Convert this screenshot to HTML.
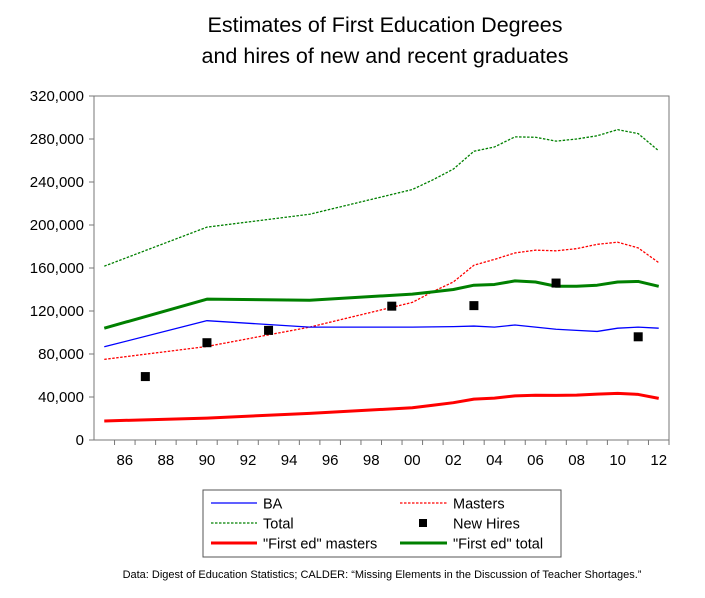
<!DOCTYPE html>
<html><head><meta charset="utf-8"><style>
html,body{margin:0;padding:0;background:#fff}
svg{display:block;font-family:"Liberation Sans",Arial,sans-serif}
</style></head><body>
<svg id="chart" width="705" height="598" viewBox="0 0 705 598">
<text x="385" y="32" font-size="21.5" text-anchor="middle">Estimates of First Education Degrees</text>
<text x="385" y="63" font-size="21.5" text-anchor="middle">and hires of new and recent graduates</text>
<g id="axes"></g>
<g id="series"></g>
<rect x="203" y="490" width="358" height="67" fill="#fff" stroke="#555" stroke-width="1"/>
<g><line x1="211" y1="503" x2="257" y2="503" stroke="#0000ff" stroke-width="1.3"/><text x="263" y="508.5" font-size="14.5">BA</text></g>
<g><line x1="400" y1="503" x2="447" y2="503" stroke="#ff0000" stroke-width="1.3" stroke-dasharray="2.5,1.5"/><text x="453" y="508.5" font-size="14.5">Masters</text></g>
<g><line x1="211" y1="523" x2="257" y2="523" stroke="#008000" stroke-width="1.3" stroke-dasharray="2.5,1.5"/><text x="263" y="528.5" font-size="14.5">Total</text></g>
<g><rect x="419" y="519" width="8" height="8" fill="#000"/><text x="453" y="528.5" font-size="14.5">New Hires</text></g>
<g><line x1="211" y1="543" x2="257" y2="543" stroke="#ff0000" stroke-width="3"/><text x="263" y="548.5" font-size="14.5">"First ed" masters</text></g>
<g><line x1="400" y1="543" x2="447" y2="543" stroke="#008000" stroke-width="3"/><text x="453" y="548.5" font-size="14.5">"First ed" total</text></g>
<text x="382" y="578" font-size="11" text-anchor="middle">Data: Digest of Education Statistics; CALDER: “Missing Elements in the Discussion of Teacher Shortages.”</text>
</svg>
<script>
const yearsMain = [1985,1990,1995,2000,2001,2002,2003,2004,2005,2006,2007,2008,2009,2010,2011,2012];
const totalVals = [161700,198000,210000,233000,242000,252000,268600,272600,282000,281600,278000,280000,283000,288700,285000,269000];
const mastersVals = [75000,87000,105000,128000,138000,147000,162600,168000,174000,176600,176000,178000,182000,184000,178700,165000];
const baVals = [86700,111000,105000,105000,105200,105500,106000,105000,107000,105000,103000,102000,101000,104000,105000,104000];
const firstEdTotalVals = [104000,131000,130000,135700,137800,140000,144000,144700,148000,147000,143000,143000,144000,147000,147500,143000];
const firstEdMastersVals = [17700,20400,24800,30000,32300,34700,38000,39000,41000,41600,41500,41800,42700,43400,42400,38700];
const hireYears = [1987,1990,1993,1999,2003,2007,2011];
const hireVals = [59000,90500,102000,124500,125000,146000,96000];
const yTicks = [0,40000,80000,120000,160000,200000,240000,280000,320000];
const xTickYears = [1986,1988,1990,1992,1994,1996,1998,2000,2002,2004,2006,2008,2010,2012];

const L=94,R=669,T=96,B=440,X0=1984.5,X1=2012.5,YMAX=320000;
const NS='http://www.w3.org/2000/svg';
function xs(v){return L+(v-X0)/(X1-X0)*(R-L);}
function ys(v){return B-v/YMAX*(B-T);}
function mk(tag,attrs,parent){const e=document.createElementNS(NS,tag);for(const k in attrs)e.setAttribute(k,attrs[k]);parent.appendChild(e);return e;}
const axes=document.getElementById('axes'), ser=document.getElementById('series');
const frame=mk('rect',{x:L,y:T,width:R-L,height:B-T,fill:'none',stroke:'#777','stroke-width':1},axes);


yTicks.forEach(v=>{
  const y=ys(v);
  const t=mk('line',{x1:L-5,y1:y,x2:L,y2:y,stroke:'#777'},axes);
  
  
  const lb=mk('text',{x:L-10,y:y+5,'font-size':15,'text-anchor':'end'},axes);
  lb.textContent=v.toLocaleString('en-US');
  
  
});
for(let yr=1985;yr<=2012;yr++){
  const x=xs(yr+0.5);
  const t=mk('line',{x1:x,y1:B,x2:x,y2:B+5,stroke:'#777'},axes);
  
  
}
xTickYears.forEach(yr=>{
  const lb=mk('text',{x:xs(yr),y:B+25,'font-size':15,'text-anchor':'middle'},axes);
  lb.textContent=String(yr%100).padStart(2,'0');
  
  
});
function line(vals,color,w,dash,name){
  const p=mk('polyline',{points:yearsMain.map((yr,i)=>xs(yr)+','+ys(vals[i])).join(' '),fill:'none',stroke:color,'stroke-width':w,'stroke-linejoin':'round'},ser);
  if(dash)p.setAttribute('stroke-dasharray',dash);
  
  
}
line(totalVals,'#008000',1.3,'2.5,1.5','total-line');
line(mastersVals,'#ff0000',1.3,'2.5,1.5','masters-line');
line(baVals,'#0000ff',1.3,null,'ba-line');
line(firstEdTotalVals,'#008000',3,null,'first-ed-total-line');
line(firstEdMastersVals,'#ff0000',3,null,'first-ed-masters-line');
hireYears.forEach((yr,i)=>{
  const r=mk('rect',{x:xs(yr)-4.5,y:ys(hireVals[i])-4.5,width:9,height:9,fill:'#000'},ser);
  
  
});
</script>
</body></html>
